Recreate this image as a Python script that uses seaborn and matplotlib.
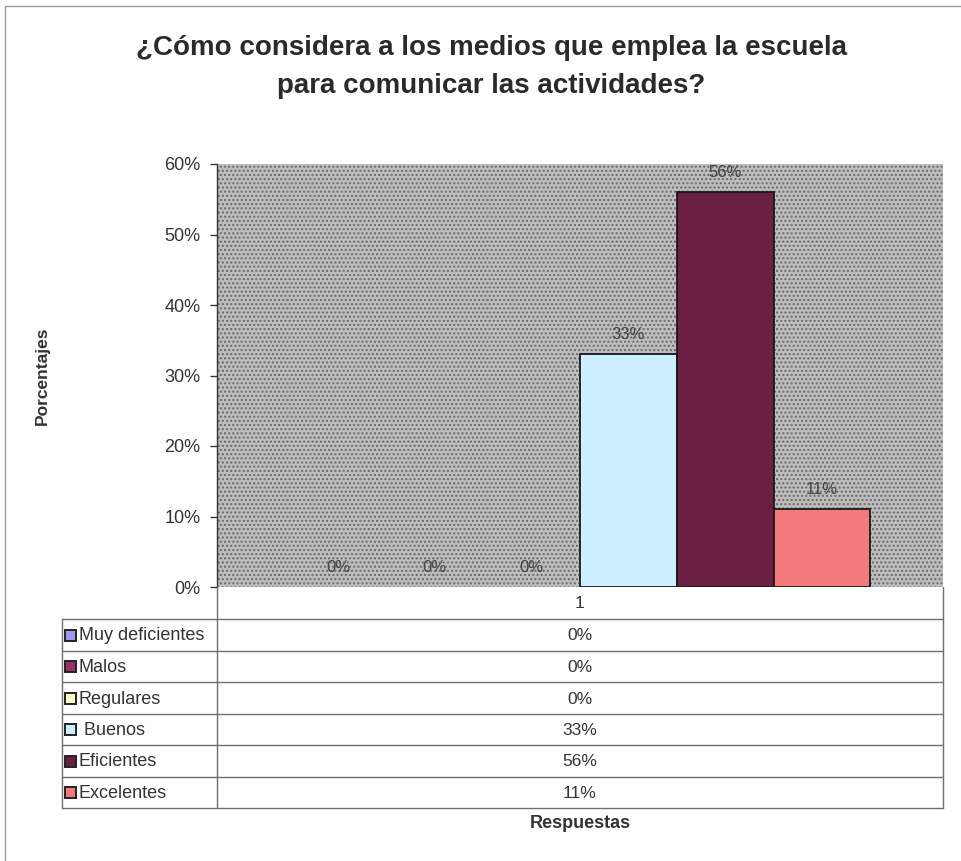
import matplotlib
matplotlib.use("Agg")
import matplotlib.pyplot as plt
import seaborn as sns
import pandas as pd
from matplotlib.patches import Rectangle

# ---- data ----
categorias = ["Muy deficientes", "Malos", "Regulares", " Buenos", "Eficientes", "Excelentes"]
valores = [0, 0, 0, 33, 56, 11]
grupo = ["1"] * 6
colores = ["#9A9AF0", "#993366", "#FFFFCC", "#CCEEFF", "#6B1F42", "#F27A7A"]
yticks = [0, 10, 20, 30, 40, 50, 60]
titulo = "¿Cómo considera a los medios que emplea la escuela\npara comunicar las actividades?"
ylabel = "Porcentajes"
xlabel = "Respuestas"

sns.set_theme(style="white")
plt.rcParams["font.family"] = ["Liberation Sans", "DejaVu Sans"]

W, H = 961, 861
fig = plt.figure(figsize=(W / 100, H / 100), dpi=100)
fig.patch.set_facecolor("white")

L, R, T, B = 217, 943, 164, 587
ax = fig.add_axes([L / W, 1 - B / H, (R - L) / W, (B - T) / H])

df = pd.DataFrame({"grupo": grupo, "categoria": categorias, "valor": valores})
sns.barplot(data=df, x="grupo", y="valor", hue="categoria", hue_order=categorias,
            palette=colores, edgecolor="#1a1a1a", linewidth=1.3, width=0.8,
            saturation=1, legend=False, ax=ax)
for p in ax.patches:
    if p.get_height() == 0:
        p.set_linewidth(0)

ax.set_facecolor("#bdbdbd")
ax.add_patch(Rectangle((0, 0), 1, 1, transform=ax.transAxes, fill=False,
                       hatch="....", edgecolor="#686868", lw=0, zorder=0))
ax.set_xlim(-0.5, 0.5)
ax.set_ylim(0, 60)
ax.set_yticks(yticks)
ax.set_yticklabels([f"{v}%" for v in yticks], fontsize=13, color="#333333")
ax.tick_params(axis="y", length=5, width=1, color="#333333", left=True, pad=7)
ax.set_xticks([])
ax.set_xlabel("")
ax.set_ylabel("")
for s in ["top", "right", "bottom"]:
    ax.spines[s].set_visible(False)
ax.spines["left"].set_color("#333333")
ax.spines["left"].set_linewidth(1)

for cont in ax.containers:
    ax.bar_label(cont, labels=[f"{v:.0f}%" for v in cont.datavalues],
                 padding=9, fontsize=12, color="#444444")

# ---- overlay for table, titles and frame (pixel coords) ----
ov = fig.add_axes([0, 0, 1, 1], zorder=5)
ov.set_xlim(0, W)
ov.set_ylim(H, 0)
ov.axis("off")
ov.patch.set_alpha(0)

lc = "#707070"
rows = [619, 651, 682, 714, 745, 777, 808]
tl = 62
ov.plot([L, L], [B, rows[-1]], color=lc, lw=1)
ov.plot([R, R], [B, rows[-1]], color=lc, lw=1)
ov.plot([tl, tl], [rows[0], rows[-1]], color=lc, lw=1)
for y in rows:
    ov.plot([tl, R], [y, y], color=lc, lw=1)
ov.text((L + R) / 2, (B + rows[0]) / 2 + 1, grupo[0], ha="center", va="center",
        fontsize=12.5, color="#333333")
for i, (cat, val, col) in enumerate(zip(categorias, valores, colores)):
    yc = (rows[i] + rows[i + 1]) / 2
    ov.add_patch(Rectangle((65, yc - 5.5), 11, 11, facecolor=col, edgecolor="#222222", lw=1.4))
    ov.text(79, yc + 1, cat, ha="left", va="center", fontsize=13, color="#333333")
    ov.text((L + R) / 2, yc + 1, f"{val}%", ha="center", va="center",
            fontsize=12.5, color="#333333")

ov.text(491, 67, titulo, ha="center", va="center", fontsize=20, fontweight="bold",
        color="#2a2a2a", linespacing=1.6)
ov.text(42, (T + B) / 2, ylabel, rotation=90, ha="center", va="center",
        fontsize=12.5, fontweight="bold", color="#333333")
ov.text(580, 824, xlabel, ha="center", va="center", fontsize=13,
        fontweight="bold", color="#333333")

# frame
ov.plot([5, 5], [6, H], color="#9a9a9a", lw=1)
ov.plot([5, W], [6, 6], color="#9a9a9a", lw=1)

fig.savefig("out.png", dpi=100)
